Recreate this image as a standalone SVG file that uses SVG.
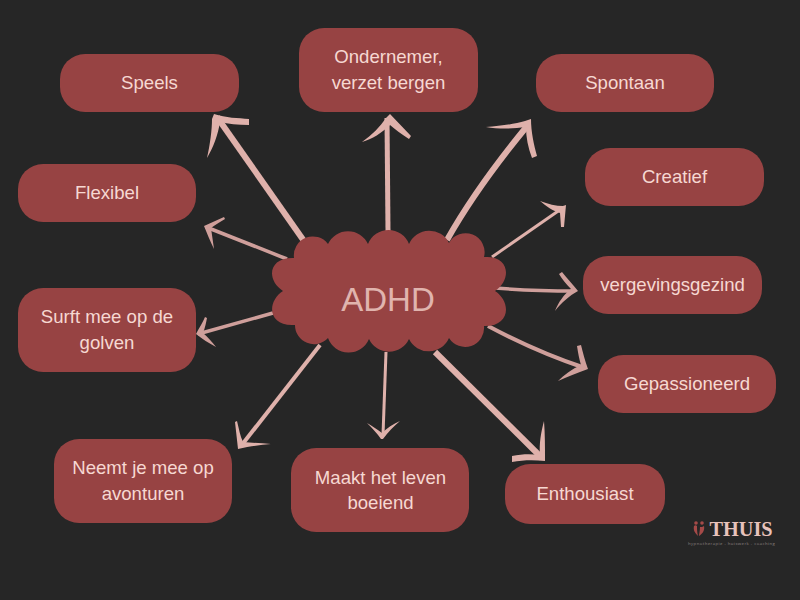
<svg xmlns="http://www.w3.org/2000/svg" width="800" height="600" viewBox="0 0 800 600">
<style>
.n{fill:#974343}
.t{font-family:"Liberation Sans",Arial,sans-serif;font-size:18.6px;fill:#f6d8d2;text-anchor:middle}
.a{fill:none;stroke:#dfb1ab;stroke-linecap:butt;stroke-linejoin:round}
.d{stroke:#cf9f9b}
.b{fill:#dfb1ab}
.e{fill:#cf9f9b}
</style>
<rect width="800" height="600" fill="#262626"/>
<g id="connectors">
<path class="a" stroke-width="6" d="M304,241L217,117"/>
<path class="b" d="M214,114C226,118 238,118 249,119L249,125C238,125 228,124 220,122C218,135 213,148 207,158C210,145 212,130 212,119Z"/>
<path class="a" stroke-width="5" d="M388,231L387,118"/>
<path class="b" d="M390,114L411,136L409,139C401,134 395,129 390,125C382,133 372,139 362,142C372,135 380,127 386,118Z"/>
<path class="a" stroke-width="6" d="M447,240C465,208 495,165 528,125"/>
<path class="b" d="M531,119C531,132 534,145 537,156L532,158C528,148 526,137 526,127C512,129 498,129 486,127C501,126 515,124 525,121Z"/>
<path class="a" stroke-width="3" d="M492,257L564,207"/>
<path class="b" d="M566,205L564,227L561,227L560,213C553,211 546,206 540,201C548,204 556,206 563,206Z"/>
<path class="a d" stroke-width="3.5" d="M495,288C520,290 550,291 575,291"/>
<path class="e" d="M578,291C569,296 561,303 555,311C558,303 564,294 571,289C566,284 562,279 559,274L562,272C567,278 573,285 578,291Z"/>
<path class="a d" stroke-width="4" d="M488,326C520,343 555,358 585,368"/>
<path class="e" d="M588,369C577,373 567,377 558,381C564,375 572,369 581,365C579,359 578,352 577,346L581,345C583,353 585,361 588,369Z"/>
<path class="a" stroke-width="6" d="M435,352L542,458"/>
<path class="b" d="M545,461C534,460 523,460 512,462L512,456C522,454 531,454 540,455C539,444 541,432 544,421C545,434 545,447 545,461Z"/>
<path class="a" stroke-width="3" d="M386,352L383,435"/>
<path class="b" d="M381,439C377,433 372,428 367,423C372,426 377,429 382,433C387,428 393,424 400,421C394,426 388,432 383,439Z"/>
<path class="a" stroke-width="4" d="M320,345L241,446"/>
<path class="b" d="M238,449L235,422L237,421C239,429 240,436 243,442C252,443 262,443 271,444C261,445 250,446 238,449Z"/>
<path class="a d" stroke-width="3.5" d="M287,259L206,227"/>
<path class="e" d="M204,226L224,217L225,219C220,222 215,225 211,228C212,235 213,242 214,249C210,241 207,233 204,226Z"/>
<path class="a d" stroke-width="3.5" d="M273,313L198,334"/>
<path class="e" d="M196,334C199,328 203,322 205,317L207,318C206,323 205,328 203,333C208,337 212,342 216,347C209,343 202,339 196,334Z"/>
</g>
<g id="node-adhd">
<path class="n" d="M283,291C266,280 268,257 294,258A19,19 0 0 1 328,244A22,22 0 0 1 368,244A22,22 0 0 1 409,244A22,22 0 0 1 449,243A19,19 0 0 1 484,257C510,255 512,280 495,291C512,302 510,327 484,326A19,19 0 0 1 449,338A22,22 0 0 1 409,339A22,22 0 0 1 369,339A22,22 0 0 1 328,338A19,19 0 0 1 295,325C268,327 266,302 283,291Z"/>
<text x="388" y="311" style="font-family:'Liberation Sans',Arial,sans-serif;font-size:33px;fill:#e0b4ae;text-anchor:middle">ADHD</text>
</g>
<g id="node-speels"><rect class="n" x="60" y="54" width="179" height="58" rx="25"/><text class="t" x="149.500" y="89">Speels</text></g>
<g id="node-ondernemer"><rect class="n" x="299" y="28" width="179" height="84" rx="25"/><text class="t" x="388.500" y="63">Ondernemer,</text><text class="t" x="388.500" y="89">verzet bergen</text></g>
<g id="node-spontaan"><rect class="n" x="536" y="54" width="178" height="58" rx="25"/><text class="t" x="625" y="89">Spontaan</text></g>
<g id="node-creatief"><rect class="n" x="585" y="148" width="179" height="58" rx="25"/><text class="t" x="674.500" y="183">Creatief</text></g>
<g id="node-flexibel"><rect class="n" x="18" y="164" width="178" height="58" rx="25"/><text class="t" x="107" y="199">Flexibel</text></g>
<g id="node-vergevingsgezind"><rect class="n" x="583" y="256" width="179" height="58" rx="25"/><text class="t" x="672.500" y="291">vergevingsgezind</text></g>
<g id="node-surft"><rect class="n" x="18" y="288" width="178" height="84" rx="25"/><text class="t" x="107" y="323">Surft mee op de</text><text class="t" x="107" y="349">golven</text></g>
<g id="node-gepassioneerd"><rect class="n" x="598" y="355" width="178" height="58" rx="25"/><text class="t" x="687" y="390">Gepassioneerd</text></g>
<g id="node-neemt"><rect class="n" x="54" y="439" width="178" height="84" rx="25"/><text class="t" x="143" y="474">Neemt je mee op</text><text class="t" x="143" y="500">avonturen</text></g>
<g id="node-maakt"><rect class="n" x="291" y="448" width="178" height="84" rx="25"/><text class="t" x="380.500" y="484">Maakt het leven</text><text class="t" x="380.500" y="509">boeiend</text></g>
<g id="node-enthousiast"><rect class="n" x="505" y="464" width="160" height="60" rx="25"/><text class="t" x="585" y="500">Enthousiast</text></g>
<g id="logo">
<circle cx="696" cy="523" r="1.800" fill="#a54a48"/><circle cx="702" cy="523" r="1.800" fill="#a54a48"/>
<path fill="#a54a48" d="M694,526C693,530 695,533 698,536C697,532 697,529 697,526C696,525 695,525 694,526Z M700,527C700,531 699,534 699,536C702,534 705,531 704,526C703,527 701,527 700,527Z"/>
<text x="709.500" y="535.500" style="font-family:'Liberation Serif',serif;font-weight:bold;font-size:20.3px;fill:#e8c2bb">THUIS</text>
<text x="688" y="544.500" style="font-family:'Open Sans',sans-serif;font-size:4.200px;letter-spacing:.47px;fill:#8f8482">hypnotherapie - huiswerk - coaching</text>
</g>
</svg>
